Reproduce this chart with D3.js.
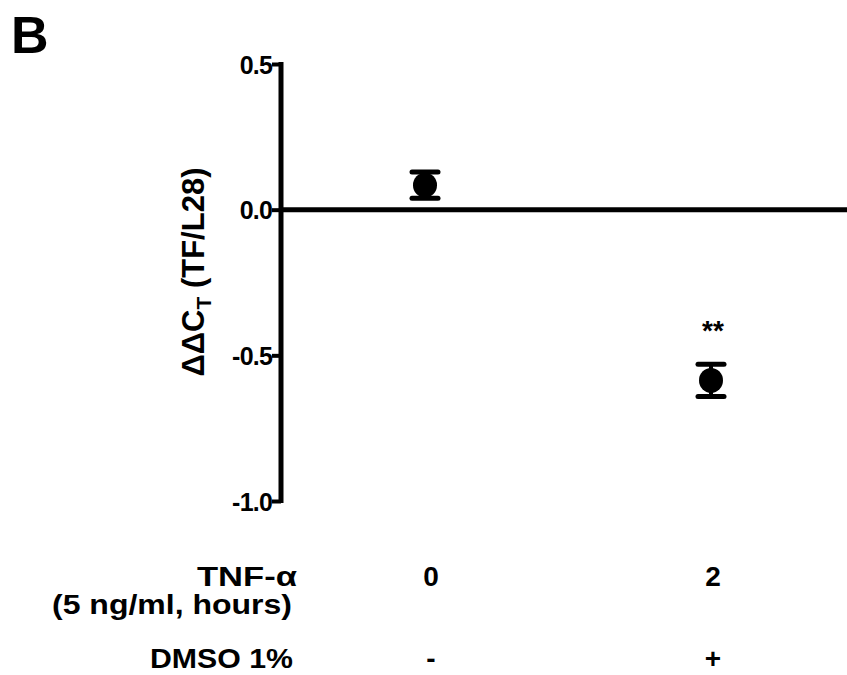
<!DOCTYPE html>
<html>
<head>
<meta charset="utf-8">
<script src="https://cdn.jsdelivr.net/npm/d3@7"></script>
<style>
  html, body { margin: 0; padding: 0; background: #fff; }
  svg { display: block; font-family: "Liberation Sans", Arial, sans-serif; font-weight: bold; }
</style>
</head>
<body>
<script>
/**
 * DATA
 */
const groups = ["0h", "2h"];
const means = [0.084, -0.586];
const sems = [0.045, 0.055];
const significance = ["", "**"];
const yTicks = [0.5, 0.0, -0.5, -1.0];
const tnfLabels = ["0", "2"];
const dmsoLabels = ["-", "+"];

/**
 * CONSTANTS
 */
const WIDTH = 847;
const HEIGHT = 675;
const AXIS_X = 281;
const LINE_W = 5;
const MARK_R = 12;
const CAP_W = 26;

const svg = d3.select("body").append("svg")
  .attr("width", WIDTH)
  .attr("height", HEIGHT);

const y = d3.scaleLinear().domain([-1, 0.5]).range([501, 64]);
const x = d3.scalePoint().domain(groups).range([425, 711]);
// bottom condition labels sit a touch right of the points
const xLabel = d3.scalePoint().domain(groups).range([431, 713]);

// Panel letter
svg.append("text")
  .attr("x", 11)
  .attr("y", 53)
  .attr("font-size", 52)
  .text("B");

// Y axis
const yAxis = svg.append("g")
  .attr("transform", `translate(${AXIS_X},0)`)
  .call(d3.axisLeft(y)
    .tickValues(yTicks)
    .tickSize(9)
    .tickPadding(0)
    .tickFormat((d) => d.toFixed(1)));

yAxis.select(".domain")
  .attr("d", `M0,${y(0.5) - 2}V${y(-1) + 2}`)
  .attr("stroke", "#000")
  .attr("stroke-width", LINE_W);
yAxis.selectAll(".tick line").attr("stroke-width", 4);
yAxis.selectAll(".tick text")
  .attr("font-size", 25)
  .attr("font-family", "'Liberation Sans', Arial, sans-serif")
  .attr("font-weight", "bold")
  .attr("letter-spacing", -0.8)
  .attr("fill", "#000")
  .attr("dy", "0.36em");

// Zero line
svg.append("line")
  .attr("x1", AXIS_X)
  .attr("x2", WIDTH)
  .attr("y1", y(0))
  .attr("y2", y(0))
  .attr("stroke", "#000")
  .attr("stroke-width", LINE_W);

// Y axis title
const yTitle = svg.append("text")
  .attr("transform", `translate(204,${272}) rotate(-90)`)
  .attr("text-anchor", "middle")
  .attr("font-size", 31);
yTitle.append("tspan").text("ΔΔC");
yTitle.append("tspan").attr("font-size", 21).attr("dy", 7).text("T");
yTitle.append("tspan").attr("dy", -7).text(" (TF/L28)");

// Points with error bars
const pts = svg.append("g").selectAll("g")
  .data(groups.map((g, i) => ({ g, m: means[i], e: sems[i], s: significance[i] })))
  .join("g");

pts.append("line")
  .attr("x1", (d) => x(d.g))
  .attr("x2", (d) => x(d.g))
  .attr("y1", (d) => y(d.m + d.e))
  .attr("y2", (d) => y(d.m - d.e))
  .attr("stroke", "#000")
  .attr("stroke-width", 4);

pts.selectAll(".cap")
  .data((d) => [d.m + d.e, d.m - d.e].map((v) => ({ g: d.g, v })))
  .join("line")
  .attr("class", "cap")
  .attr("x1", (d) => x(d.g) - CAP_W / 2)
  .attr("x2", (d) => x(d.g) + CAP_W / 2)
  .attr("y1", (d) => y(d.v))
  .attr("y2", (d) => y(d.v))
  .attr("stroke", "#000")
  .attr("stroke-width", 5)
  .attr("stroke-linecap", "round");

pts.append("ellipse")
  .attr("cx", (d) => x(d.g))
  .attr("cy", (d) => y(d.m))
  .attr("rx", MARK_R)
  .attr("ry", MARK_R + 0.5)
  .attr("fill", "#000");

pts.append("text")
  .attr("x", (d) => x(d.g) + 2)
  .attr("y", (d) => y(d.m + d.e) - 24)
  .attr("text-anchor", "middle")
  .attr("font-size", 28)
  .text((d) => d.s);

// Bottom condition rows
const rowLabel = (txt, right, base, len) =>
  svg.append("text")
    .attr("x", right)
    .attr("y", base)
    .attr("text-anchor", "end")
    .attr("font-size", 28)
    .attr("textLength", len)
    .attr("lengthAdjust", "spacingAndGlyphs")
    .text(txt);

rowLabel("TNF-α", 297, 586, 100);
rowLabel("(5 ng/ml, hours)", 292, 614, 240);
rowLabel("DMSO 1%", 293, 668, 143);

svg.append("g").selectAll("text")
  .data(tnfLabels)
  .join("text")
  .attr("x", (d, i) => xLabel(groups[i]))
  .attr("y", 586)
  .attr("text-anchor", "middle")
  .attr("font-size", 28)
  .text((d) => d);

svg.append("g").selectAll("text")
  .data(dmsoLabels)
  .join("text")
  .attr("x", (d, i) => xLabel(groups[i]))
  .attr("y", 668)
  .attr("text-anchor", "middle")
  .attr("font-size", 28)
  .text((d) => d);
</script>
</body>
</html>
